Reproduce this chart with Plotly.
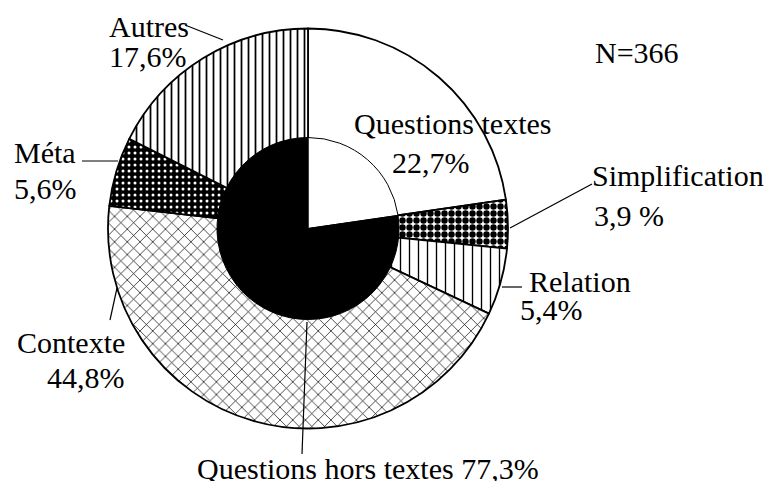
import plotly.graph_objects as go

# ---- data ----
outer_labels = ["Questions textes", "Simplification", "Relation", "Contexte", "Méta", "Autres"]
outer_values = [22.7, 3.9, 5.4, 44.8, 5.6, 17.6]
inner_labels = ["Questions textes", "Questions hors textes"]
inner_values = [22.7, 77.3]
n_total = 366

W, H = 767, 481
CX, CY, R_OUT, R_IN = 308, 228.5, 200, 91


def px(x):
    return x / W


def py(y):
    return 1 - y / H


def pct(v, sep=""):
    return f"{v:.1f}".replace(".", ",") + sep + "%"


fig = go.Figure()

fig.add_trace(go.Pie(
    labels=outer_labels, values=outer_values, sort=False, direction="clockwise", rotation=0,
    textinfo="none", hoverinfo="skip", showlegend=False,
    domain=dict(x=[px(CX - R_OUT), px(CX + R_OUT)], y=[py(CY + R_OUT), py(CY - R_OUT)]),
    marker=dict(
        colors=["white", "white", "white", "white", "black", "white"],
        line=dict(color="black", width=1.8),
        pattern=dict(
            shape=["", ".", "|", "x", ".", "|"],
            fgcolor=["black", "black", "black", "black", "white", "black"],
            bgcolor=["white", "white", "white", "white", "black", "white"],
            size=[8, 7, 9, 9, 6, 7],
            solidity=[0.1, 0.65, 0.15, 0.15, 0.2, 0.25],
            fillmode="replace",
        ),
    ),
))

fig.add_trace(go.Pie(
    labels=inner_labels, values=inner_values, sort=False, direction="clockwise", rotation=0,
    textinfo="none", hoverinfo="skip", showlegend=False,
    domain=dict(x=[px(CX - R_IN), px(CX + R_IN)], y=[py(CY + R_IN), py(CY - R_IN)]),
    marker=dict(colors=["white", "black"], line=dict(color="black", width=1)),
))

FONT = dict(family="Liberation Serif, Times New Roman, serif", size=30, color="black")

# (text, left x px, center y px)
texts = [
    (outer_labels[5], 107, 26), (pct(outer_values[5]), 107, 57),
    (outer_labels[4], 12, 152), (pct(outer_values[4]), 12, 188),
    (outer_labels[3], 15, 342), (pct(outer_values[3]), 45, 377),
    (outer_labels[0], 352, 123), (pct(outer_values[0]), 390, 162),
    (outer_labels[1], 590, 175), (pct(outer_values[1], " "), 592, 215),
    (outer_labels[2], 527, 281), (pct(outer_values[2]), 518, 309),
    (inner_labels[1] + " " + pct(inner_values[1]), 195, 468),
    (f"N={n_total}", 593, 53),
]
annotations = [
    dict(text=t, x=px(x), y=py(y), xref="paper", yref="paper", xanchor="left", yanchor="middle",
         showarrow=False, font=FONT)
    for t, x, y in texts
]

leaders = [
    ((185, 25), (223, 40)),
    ((82, 161), (118, 161)),
    ((110, 320), (117, 288)),
    ((592, 184), (510, 228)),
    ((502, 287), (522, 287)),
    ((302, 454), (307, 322)),
]
shapes = [
    dict(type="line", xref="paper", yref="paper", x0=px(a[0]), y0=py(a[1]), x1=px(b[0]), y1=py(b[1]),
         line=dict(color="black", width=1.2))
    for a, b in leaders
]

fig.update_layout(
    width=W, height=H, margin=dict(l=0, r=0, t=0, b=0),
    paper_bgcolor="white", plot_bgcolor="white",
    annotations=annotations, shapes=shapes, showlegend=False,
)

fig.write_html(
    "out.html",
    config={"displayModeBar": False},
    post_script="document.body.style.margin='0px';document.body.style.overflow='hidden';",
)
